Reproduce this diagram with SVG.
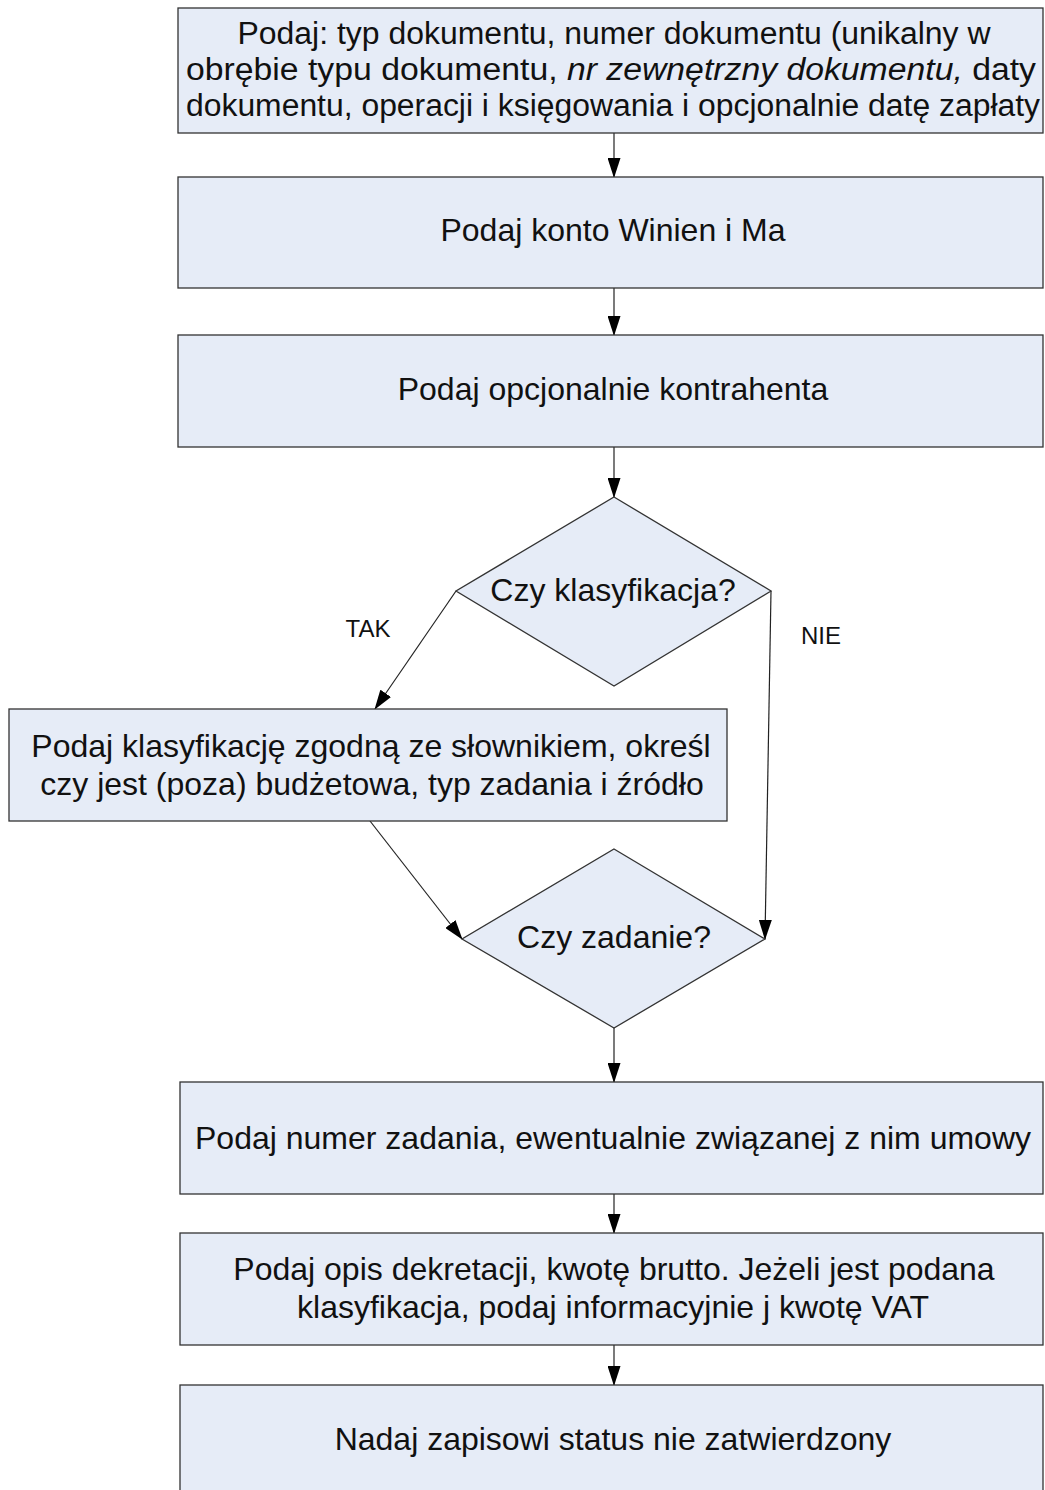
<svg xmlns="http://www.w3.org/2000/svg" width="1045" height="1490" viewBox="0 0 1045 1490">
<style>
.n{fill:#e6ecf7;stroke:#333;stroke-width:1.3}
.t{font-family:"Liberation Sans",Arial,sans-serif;font-size:32px;fill:#111;text-anchor:middle}
.h{font-size:31px}
.l{font-family:"Liberation Sans",Arial,sans-serif;font-size:24px;fill:#111;text-anchor:middle}
.c{stroke:#222;stroke-width:1.2;fill:none;marker-end:url(#a)}
</style>
<defs>
<marker id="a" markerWidth="20" markerHeight="13" refX="19" refY="6.5" viewBox="0 0 20 13" markerUnits="userSpaceOnUse" orient="auto">
<path d="M0,0 L20,6.5 L0,13 Z" fill="#000"/>
</marker>
</defs>
<rect width="1045" height="1490" fill="#fff"/>
<g id="connectors">
<line class="c" x1="614" y1="133" x2="614" y2="177"/>
<line class="c" x1="614" y1="288" x2="614" y2="335"/>
<line class="c" x1="614" y1="447" x2="614" y2="497"/>
<line class="c" x1="456" y1="591" x2="375" y2="709"/>
<line class="c" x1="771" y1="591" x2="765" y2="939"/>
<line class="c" x1="370" y1="821" x2="462" y2="939"/>
<line class="c" x1="614" y1="1028" x2="614" y2="1082"/>
<line class="c" x1="614" y1="1194" x2="614" y2="1233"/>
<line class="c" x1="614" y1="1345" x2="614" y2="1385"/>
<text class="l" x="368" y="637">TAK</text>
<text class="l" x="821" y="644">NIE</text>
</g>
<g id="n1">
<rect class="n" x="178" y="8" width="865" height="125"/>
<text class="t h" x="614" y="44" textLength="753" lengthAdjust="spacingAndGlyphs">Podaj: typ dokumentu, numer dokumentu (unikalny w</text>
<text class="t h" x="611" y="80" textLength="850" lengthAdjust="spacingAndGlyphs">obrębie typu dokumentu,  <tspan font-style="italic">nr zewnętrzny dokumentu,</tspan> daty</text>
<text class="t h" x="613" y="116" textLength="854" lengthAdjust="spacingAndGlyphs">dokumentu, operacji i księgowania i opcjonalnie datę zapłaty</text>
</g>
<g id="n2">
<rect class="n" x="178" y="177" width="865" height="111"/>
<text class="t" x="613" y="241">Podaj konto Winien i Ma</text>
</g>
<g id="n3">
<rect class="n" x="178" y="335" width="865" height="112"/>
<text class="t" x="613" y="400">Podaj opcjonalnie kontrahenta</text>
</g>
<g id="d1">
<polygon class="n" points="614,497 771,591 614,686 456,591"/>
<text class="t" x="613" y="601">Czy klasyfikacja?</text>
</g>
<g id="n4">
<rect class="n" x="9" y="709" width="718" height="112"/>
<text class="t" x="371" y="757">Podaj klasyfikację zgodną ze słownikiem, określ</text>
<text class="t" x="372" y="795">czy jest (poza) budżetowa, typ zadania i źródło</text>
</g>
<g id="d2">
<polygon class="n" points="614,849 765,939 614,1028 462,939"/>
<text class="t" x="614" y="948">Czy zadanie?</text>
</g>
<g id="n5">
<rect class="n" x="180" y="1082" width="863" height="112"/>
<text class="t" x="613" y="1149">Podaj numer zadania, ewentualnie związanej z nim umowy</text>
</g>
<g id="n6">
<rect class="n" x="180" y="1233" width="863" height="112"/>
<text class="t" x="614" y="1280">Podaj opis dekretacji, kwotę brutto. Jeżeli jest podana</text>
<text class="t" x="613" y="1318">klasyfikacja, podaj informacyjnie j kwotę VAT</text>
</g>
<g id="n7">
<rect class="n" x="180" y="1385" width="863" height="112"/>
<text class="t" x="613" y="1450">Nadaj zapisowi status nie zatwierdzony</text>
</g>
</svg>
